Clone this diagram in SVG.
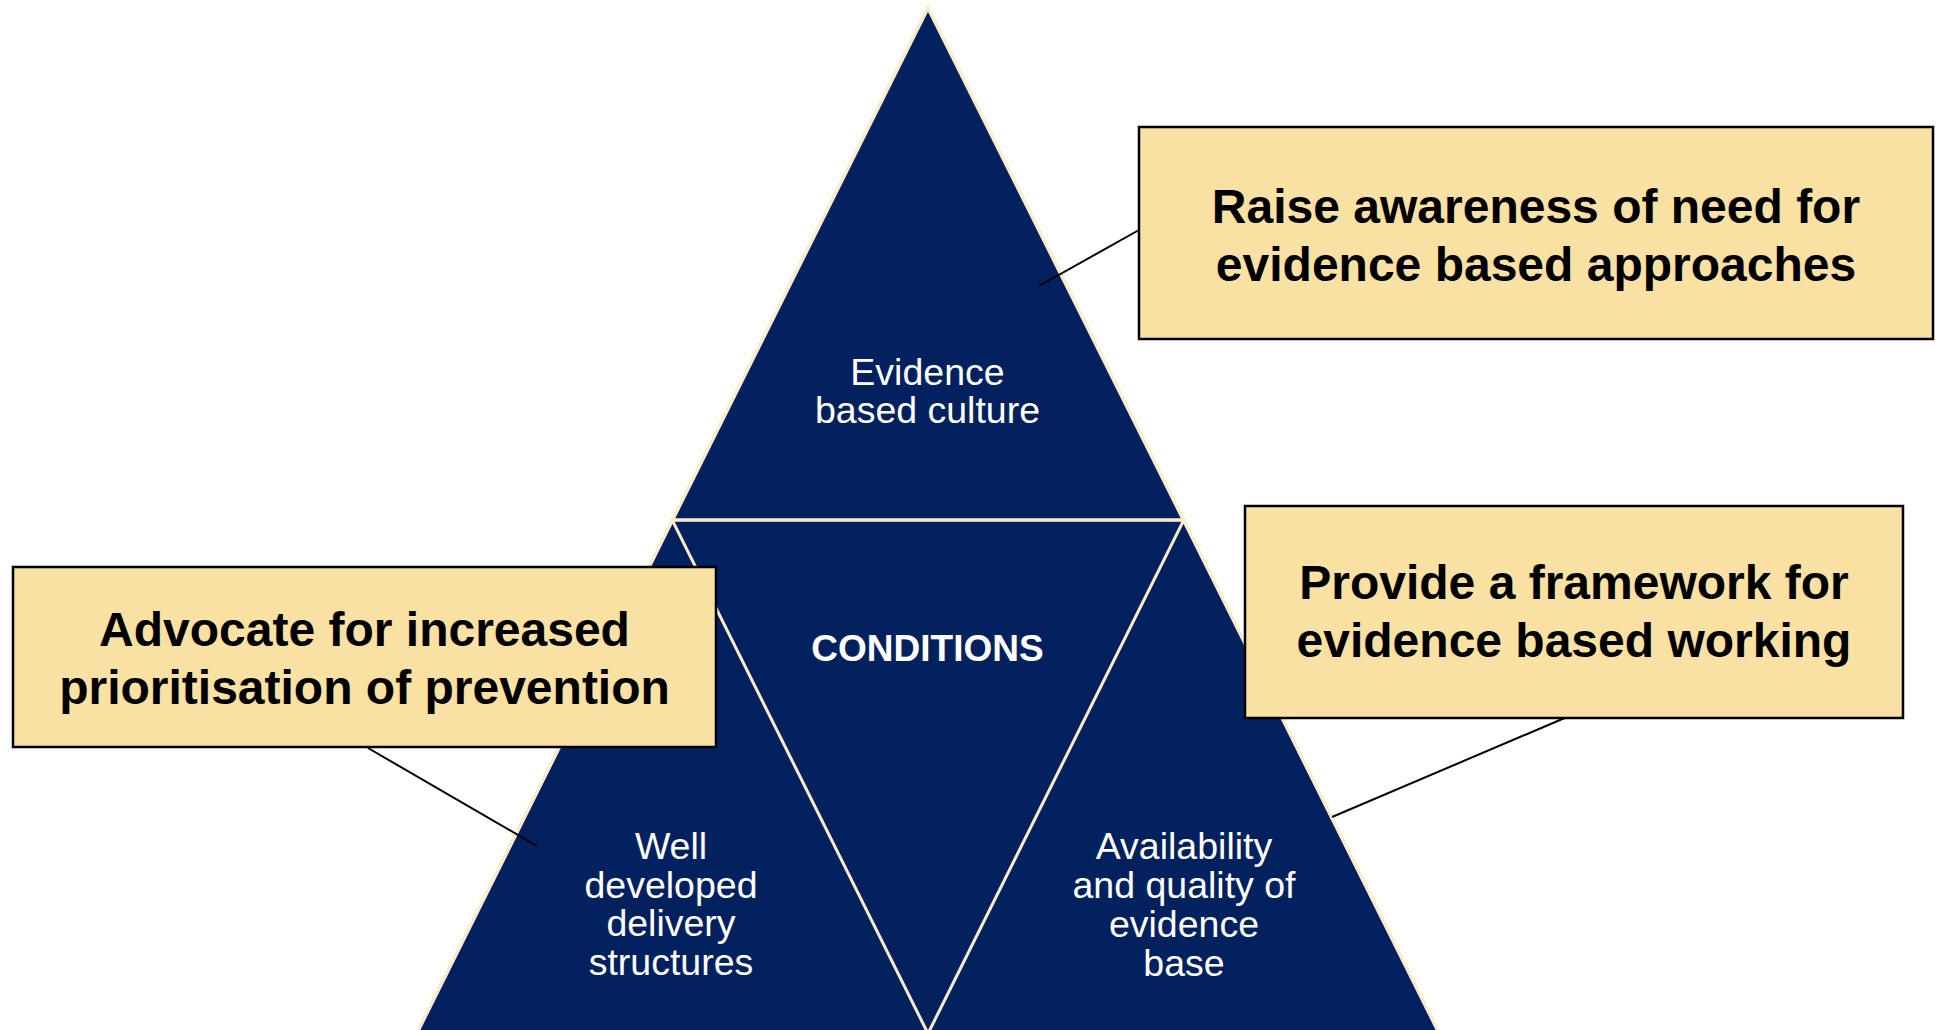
<svg xmlns="http://www.w3.org/2000/svg" width="1936" height="1030" viewBox="0 0 1936 1030">
  <style>
    .tri { fill: #03215F; stroke: #FCEBCB; stroke-width: 3.5; stroke-linejoin: miter; }
    .tri-inner { fill: #03215F; stroke: #FCEBCB; stroke-width: 2.5; }
    .tri-label { font-family: "Liberation Sans", Arial, sans-serif; font-size: 37.5px; fill: #FFFFFF; text-anchor: middle; }
    .tri-title { font-family: "Liberation Sans", Arial, sans-serif; font-size: 37px; font-weight: bold; fill: #FFFFFF; text-anchor: middle; }
    .box { fill: #F9E0A3; stroke: #000000; stroke-width: 2.5; }
    .box-text { font-family: "Liberation Sans", Arial, sans-serif; font-size: 48px; font-weight: bold; fill: #000000; text-anchor: middle; }
    .link { stroke: #000000; stroke-width: 2; fill: none; }
  </style>

  <rect width="1936" height="1030" fill="#FFFFFF"/>

  <!-- pyramid: four sub-triangles -->
  <g id="node-well-developed">
    <polygon class="tri" points="672.5,520 417,1033 928,1033"/>
    <text class="tri-label" x="671" y="859">Well</text>
    <text class="tri-label" x="671" y="898">developed</text>
    <text class="tri-label" x="671" y="936">delivery</text>
    <text class="tri-label" x="671" y="975">structures</text>
  </g>

  <g id="node-availability">
    <polygon class="tri" points="1183.5,520 928,1033 1439,1033"/>
    <text class="tri-label" x="1184" y="859">Availability</text>
    <text class="tri-label" x="1184" y="898">and quality of</text>
    <text class="tri-label" x="1184" y="937">evidence</text>
    <text class="tri-label" x="1184" y="976">base</text>
  </g>

  <g id="node-conditions">
    <polygon class="tri-inner" points="672.5,520 1183.5,520 928,1033"/>
    <text class="tri-title" x="927.5" y="661">CONDITIONS</text>
  </g>

  <g id="node-evidence-culture">
    <polygon class="tri" points="928,8 1183.5,520 672.5,520"/>
    <text class="tri-label" x="927.5" y="385">Evidence</text>
    <text class="tri-label" x="927.5" y="423">based culture</text>
  </g>

  <!-- callout leader lines -->
  <g id="connectors">
    <line class="link" x1="1039" y1="286" x2="1139" y2="230"/>
    <line class="link" x1="1332" y1="817" x2="1567" y2="717"/>
    <line class="link" x1="368" y1="748" x2="537" y2="846"/>
  </g>

  <!-- callout boxes -->
  <g id="box-raise-awareness">
    <rect class="box" x="1139" y="127" width="794" height="212"/>
    <text class="box-text" x="1536" y="223">Raise awareness of need for</text>
    <text class="box-text" x="1536" y="281">evidence based approaches</text>
  </g>

  <g id="box-framework">
    <rect class="box" x="1245" y="506" width="658" height="212"/>
    <text class="box-text" x="1574" y="599">Provide a framework for</text>
    <text class="box-text" x="1574" y="657">evidence based working</text>
  </g>

  <g id="box-advocate">
    <rect class="box" x="13" y="567" width="703" height="180"/>
    <text class="box-text" x="364.5" y="646">Advocate for increased</text>
    <text class="box-text" x="364.5" y="704">prioritisation of prevention</text>
  </g>
</svg>
